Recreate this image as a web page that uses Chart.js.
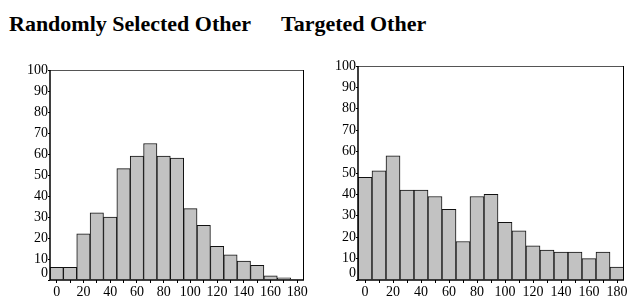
<!DOCTYPE html>
<html>
<head>
<meta charset="utf-8">
<script src="https://cdn.jsdelivr.net/npm/chart.js@4.4.1/dist/chart.umd.min.js"></script>
<style>
    body { margin: 0; background: #fff; width: 629px; height: 299px; position: relative; overflow: hidden; }
    .titulo { position: absolute; top: 13px; font: bold 22px "Liberation Serif", "Times New Roman", serif; line-height: 22px; color: #000; white-space: nowrap; }
    canvas { position: absolute; top: 0; }
</style>
</head>
<body>
<div class="titulo" style="left:9px">Randomly Selected Other</div>
<div class="titulo" style="left:281px">Targeted Other</div>
<canvas id="grafico-random" style="left:0px"></canvas>
<canvas id="grafico-targeted" style="left:315px"></canvas>
<script>
// bins (centro de cada barra)
var bins = [0, 10, 20, 30, 40, 50, 60, 70, 80, 90, 100, 110, 120, 130, 140, 150, 160, 170, 180];
var valoresRandom = [6, 6, 22, 32, 30, 53, 59, 65, 59, 58, 34, 26, 16, 12, 9, 7, 2, 1, 0];
var valoresTargeted = [48, 51, 58, 42, 42, 39, 33, 18, 39, 40, 27, 23, 16, 14, 13, 13, 10, 13, 6];
var ticksY = [0, 10, 20, 30, 40, 50, 60, 70, 80, 90, 100];

var fuente = '"Liberation Serif", "Times New Roman", serif';

// marco del grafico y etiqueta del 0 un poco mas arriba
var marcoPlugin = {
    id: 'marco',
    afterDraw: function (chart) {
        var ctx = chart.ctx;
        var a = chart.chartArea;
        ctx.save();
        ctx.strokeStyle = '#555';
        ctx.lineWidth = 1;
        ctx.beginPath();
        ctx.moveTo(a.left, a.top + 0.5);
        ctx.lineTo(a.right, a.top + 0.5);
        ctx.stroke();
        ctx.strokeStyle = '#000';
        ctx.beginPath();
        ctx.moveTo(a.right - 0.5, a.top);
        ctx.lineTo(a.right - 0.5, a.bottom);
        ctx.stroke();
        ctx.lineWidth = 1.5;
        ctx.beginPath();
        ctx.moveTo(a.left, a.top);
        ctx.lineTo(a.left, a.bottom);
        ctx.lineTo(a.right, a.bottom);
        ctx.stroke();

        var y = chart.scales.y;
        ctx.fillStyle = '#000';
        ctx.font = '14px ' + fuente;
        ctx.textAlign = 'right';
        ctx.textBaseline = 'middle';
        ctx.fillText('0', a.left - 2, y.getPixelForValue(0) - 7);
        ctx.restore();
    }
};

function crearGrafico(id, ancho, valores, arriba, anchoY, derecha) {
    var ctx = document.getElementById(id);
    ctx.width = ancho;
    ctx.height = 299;
    ctx.style.width = ancho + 'px';
    ctx.style.height = '299px';
    return new Chart(ctx, {
        type: 'bar',
        data: {
            labels: bins,
            datasets: [{
                data: valores,
                backgroundColor: '#c2c2c2',
                borderColor: '#111',
                borderWidth: 1,
                borderSkipped: 'bottom',
                barPercentage: 1,
                categoryPercentage: 1
            }]
        },
        options: {
            responsive: false,
            animation: false,
            events: [],
            layout: { padding: { top: arriba, right: derecha, left: 0, bottom: 0 } },
            plugins: { legend: { display: false }, tooltip: { enabled: false } },
            scales: {
                x: {
                    offset: true,
                    grid: { display: true, drawOnChartArea: false, offset: false, tickLength: 3, color: '#000' },
                    border: { display: false },
                    afterFit: function (scale) { scale.height = 19; },
                    ticks: {
                        autoSkip: false,
                        maxRotation: 0,
                        padding: 1,
                        color: '#000',
                        font: { family: fuente, size: 14 },
                        callback: function (value, index) {
                            return index % 2 == 0 ? bins[index] : '';
                        }
                    }
                },
                y: {
                    min: 0,
                    max: 100,
                    afterBuildTicks: function (scale) {
                        scale.ticks = ticksY.map(function (v) { return { value: v }; });
                    },
                    afterFit: function (scale) { scale.width = anchoY; },
                    grid: { display: true, drawOnChartArea: false, tickLength: 2, color: '#000' },
                    border: { display: false },
                    ticks: {
                        padding: 0,
                        color: '#000',
                        font: { family: fuente, size: 14 },
                        callback: function (value) {
                            return value == 0 ? '' : value;
                        }
                    }
                }
            }
        },
        plugins: [marcoPlugin]
    });
}

crearGrafico('grafico-random', 315, valoresRandom, 70, 50, 11);
crearGrafico('grafico-targeted', 314, valoresTargeted, 66, 43, 5);
</script>
</body>
</html>
